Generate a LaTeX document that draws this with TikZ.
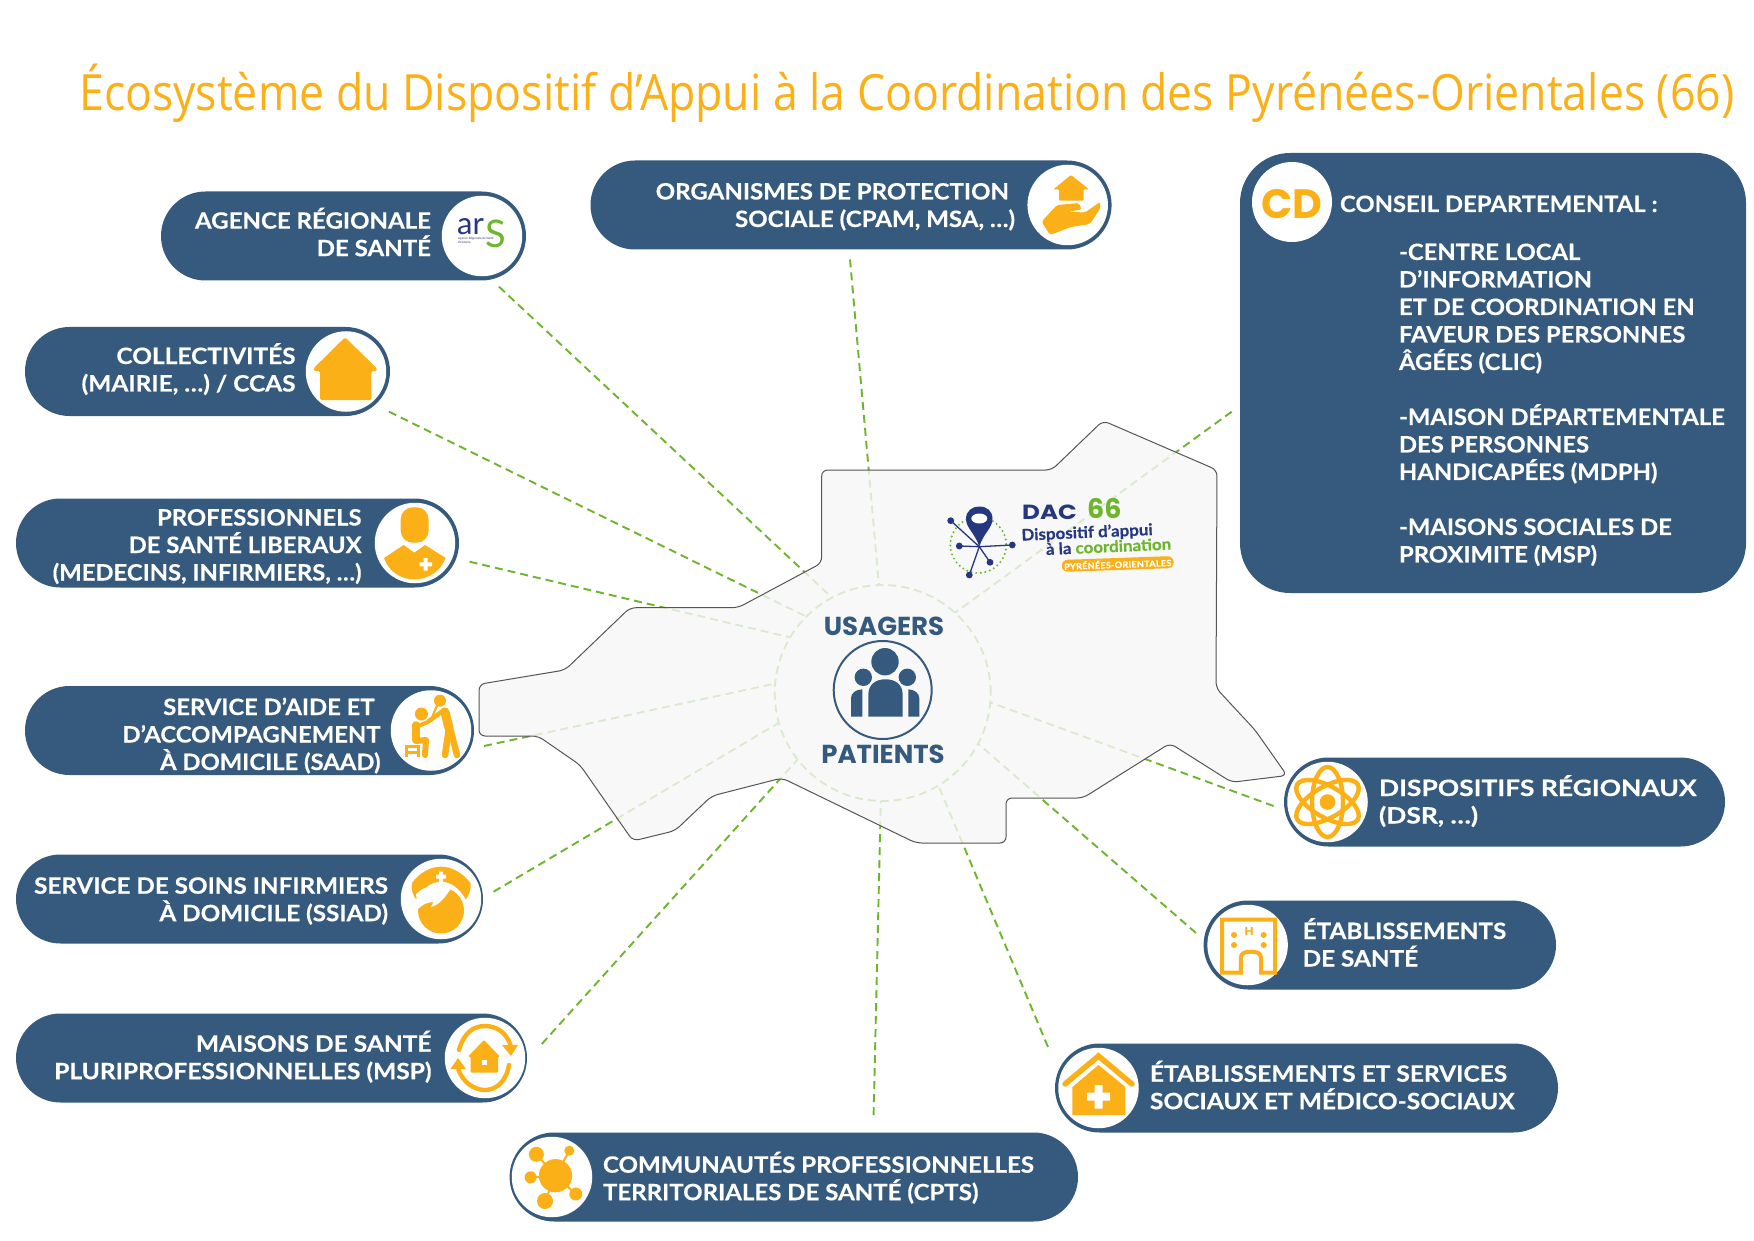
\documentclass[tikz,border=0pt]{standalone}
\usepackage{fontspec}
\usepackage{graphicx}
\usetikzlibrary{shapes.misc}
\setmainfont{Lato}[BoldFeatures={FakeStretch=1.058,FakeBold=0.45}]
\newfontfamily\titlef{Open Sans}
\newfontfamily\heavyf{Poppins}
\definecolor{navy}{HTML}{355A7D}
\definecolor{amber}{HTML}{FBB017}
\definecolor{leaf}{HTML}{6DB52D}
\definecolor{logonavy}{HTML}{24377F}
\definecolor{mapfill}{HTML}{F7F7F7}
\definecolor{mapline}{HTML}{555555}
\tikzset{
  pillbox/.style={rounded rectangle,fill=navy,minimum height=89pt,inner sep=0pt,outer sep=0pt},
  iconbg/.style={circle,fill=white,minimum size=80.5pt,inner sep=0pt,outer sep=0pt},
  lbl/.style={text=white,inner sep=0pt,outer sep=0pt,font=\fontsize{22.5}{27.5}\selectfont\bfseries},
  link/.style={draw=leaf,line width=1.9pt,dash pattern=on 8pt off 5pt},
  ico/.style={fill=amber,draw=none},
  icol/.style={draw=amber,fill=none,line cap=round,line join=round},
  bignavy/.style={text=navy,inner sep=0pt,font=\fontsize{26}{30}\selectfont\heavyf\bfseries},
}
\newcommand\pill[5]{%
  \node[pillbox,minimum width=#3pt-#2pt] (#1) at ({(#2+#3)/2},#4) {};
  \node[iconbg] (#1-ic) at (#5,#4) {};}
\newcommand\rtext[5][1]{\node[lbl,anchor=base east] (#2) at (#3,{#4+1}) {\scalebox{#1}[1]{\vtop{\baselineskip=27.5pt\lineskiplimit=-100pt\let\\\cr\halign{\hfil##\cr #5\crcr}}}};}
\newcommand\ltext[5][1]{\node[lbl,anchor=base west] (#2) at (#3,{#4+1}) {\scalebox{#1}[1]{\vtop{\baselineskip=27.5pt\lineskiplimit=-100pt\let\\\cr\halign{##\hfil\cr #5\crcr}}}};}
\begin{document}
\begin{tikzpicture}[x=1pt,y=-1pt]
\useasboundingbox (0,0) rectangle (1754,1241);
\fill[white] (0,0) rectangle (1754,1241);
% title
\node[anchor=base west,inner sep=0pt,text=amber,font=\fontsize{50}{58}\selectfont\titlef] (title) at (79,111)
  {\resizebox{1655pt}{\height}{Écosystème du Dispositif d’Appui à la Coordination des Pyrénées-Orientales (66)}};
% hub and connectors (lie beneath the translucent map)
\node[circle,minimum size=216pt,inner sep=0pt,outer sep=0pt,draw=leaf,line width=1.9pt,dash pattern=on 8pt off 5pt] (hub) at (882.7,693) {};
\coordinate (e-ars) at (499,286.7);
\coordinate (e-col) at (389,411.7);
\coordinate (e-pro) at (469.6,561.7);
\coordinate (e-saad) at (484,746);
\coordinate (e-ssiad) at (493.6,891.7);
\coordinate (e-msp) at (541.8,1044);
\coordinate (e-cpts) at (873.6,1115);
\coordinate (e-esms) at (1048,1047);
\coordinate (e-es) at (1196,933);
\coordinate (e-dsr) at (1273.6,806);
\coordinate (e-cd) at (1231.7,411.7);
\coordinate (e-ops) at (850,259.5);
\draw[link] (e-ars) -- (hub.118.4);
\draw[link] (e-col) -- (hub.135.5);
\draw[link] (e-pro) -- (hub.149.7);
\draw[link] (e-saad) -- (hub.175.8);
\draw[link] (e-ssiad) -- (hub.196.5);
\draw[link] (e-msp) -- (hub.218.2);
\draw[link] (e-cpts) -- (hub.269.5);
\draw[link] (e-esms) -- (hub.301);
\draw[link] (e-es) -- (hub.332.3);
\draw[link] (e-dsr) -- (hub.355.3);
\draw[link] (e-cd) -- (hub.48);
\draw[link] (e-ops) -- (hub.92);
% map
\path[fill=mapfill,fill opacity=.8,draw=mapline,draw opacity=1,line width=1pt,rounded corners=6pt]
  (479,684.3) -- (565,670) -- (630,607.7) -- (738,607.7) -- (821.7,563) -- (821.7,470) -- (1051.7,470)
  -- (1103,420.7) -- (1217,470) -- (1216,688) -- (1255,730) -- (1287,775.5) -- (1231.7,782.3)
  -- (1170,743.3) -- (1083,798) -- (1006,798) -- (1006,843) -- (916,843) -- (782,778) -- (711.7,796)
  -- (675,830.7) -- (633,841) -- (580,765) -- (538,736) -- (479,736) -- cycle;
% usagers
\node[bignavy,anchor=base] (usagers) at (884,635) {USAGERS};
\node[bignavy,anchor=base] (patients) at (883,763) {PATIENTS};
\node[circle,draw=navy,line width=2pt,minimum size=98pt,inner sep=0pt] (people) at (882.7,690) {};
\fill[navy] (885,661.7) circle (13.7) (863.3,677.3) circle (8.7) (907.3,677.3) circle (8.7);
\fill[navy] (868.3,716.7) -- (868.3,695) .. controls (868.3,684) and (876,679.3) .. (885.5,679.3) .. controls (895,679.3) and (902.7,684) .. (902.7,695) -- (902.7,716.7) -- cycle;
\fill[navy] (851,716.7) -- (851,698) .. controls (851,693) and (856,689.5) .. (862.3,689.3) -- (862.3,716.7) -- cycle;
\fill[navy] (919.3,716.7) -- (919.3,698) .. controls (919.3,693) and (914,689.5) .. (908.3,689.3) -- (908.3,716.7) -- cycle;
% DAC logo
\draw[leaf,line width=2.2pt,line cap=round,dash pattern=on 0pt off 4.6pt] (978.3,545) circle (28);
\fill[logonavy] (979.3,546.7) .. controls (975,533) and (966,528) .. (966,519) .. controls (966,511) and (972,506.5) .. (979.3,506.5) .. controls (987,506.5) and (992.5,511) .. (992.5,519) .. controls (992.5,528) and (983.5,533) .. (979.3,546.7) -- cycle;
\fill[white] (979.3,518.5) ellipse (8 and 5);
\coordinate (pinc) at (979.3,546.7);
\foreach \px/\py in {950.7/520.7,959.3/546,1012.3/545,990/562.3,969.3/575}{
  \draw[logonavy,line width=1.3pt] (pinc) -- (\px,\py);
  \fill[logonavy] (\px,\py) circle (3.4);
}
\node[anchor=base west,inner sep=0pt,text=logonavy,font=\fontsize{20.5}{24}\selectfont\heavyf\bfseries] (dac) at (1022,519.3) {\scalebox{1.2}[1]{DAC}};
\node[anchor=base west,inner sep=0pt,text=leaf,font=\fontsize{27}{30}\selectfont\heavyf\bfseries] (dac66) at (1087,518.5) {66};
\node[anchor=base west,inner sep=0pt,text=logonavy,rotate=2.5,font=\fontsize{16}{20}\selectfont\bfseries] (dacl1) at (1021.5,540.7) {Dispositif d’appui};
\node[anchor=base west,inner sep=0pt,text=leaf,rotate=2.5,font=\fontsize{16}{20}\selectfont\bfseries] (dacl2) at (1046,555) {\textcolor{logonavy}{à la} coordination};
\node[rounded rectangle,fill=amber,rotate=2,minimum width=112pt,minimum height=12pt,inner sep=0pt,text=white,font=\fontsize{8.6}{10}\selectfont\bfseries] (dacl3) at (1117.7,564) {\addfontfeature{LetterSpace=3}PYRÉNÉES-ORIENTALES};
% pills
\pill{ars}{161}{526}{236}{482}
\pill{col}{25}{390}{371.5}{346}
\pill{pro}{16}{459}{543}{415}
\pill{saad}{25}{474}{730.5}{431}
\pill{ssiad}{16}{483}{899}{441}
\pill{msp}{16}{527}{1058}{485}
\pill{cpts}{509.6}{1078}{1177}{552}
\pill{dsr}{1284}{1725}{802}{1327.5}
\pill{es}{1203.6}{1556}{945}{1247.6}
\pill{esms}{1055}{1558}{1088}{1098.5}
\pill{ops}{590.5}{1111.6}{205}{1067.7}
\node[rectangle,rounded corners=50pt,fill=navy,minimum width=506pt,minimum height=440pt,inner sep=0pt] (cdbox) at (1493,373) {};
\node[circle,fill=white,minimum size=80pt,inner sep=0pt] (cd-ic) at (1292,202) {};
\node[text=amber,inner sep=0pt,anchor=base,font=\fontsize{41}{44}\selectfont\heavyf\bfseries] (cdmark) at (1292,219) {CD};
% labels
\rtext[1.01]{ars-t}{431}{227.7}{AGENCE RÉGIONALE\\DE SANTÉ}
\rtext[1.027]{col-t}{295.5}{363}{COLLECTIVITÉS\\(MAIRIE, …) / CCAS}
\rtext{pro-t}{361.5}{524.5}{PROFESSIONNELS\\DE SANTÉ LIBERAUX\\(MEDECINS, INFIRMIERS, …)}
\rtext{saad-t}{380.5}{714}{SERVICE D’AIDE ET\hspace{6pt}\\D’ACCOMPAGNEMENT\\À DOMICILE (SAAD)}
\rtext[1.019]{ssiad-t}{388}{892.7}{SERVICE DE SOINS INFIRMIERS\\À DOMICILE (SSIAD)}
\rtext[1.03]{msp-t}{431.5}{1050.7}{MAISONS DE SANTÉ\\PLURIPROFESSIONNELLES (MSP)}
\rtext[1.01]{ops-t}{1015}{198.5}{ORGANISMES DE PROTECTION\hspace{6pt}\\SOCIALE (CPAM, MSA, …)}
\ltext[1.01]{cpts-t}{603}{1171.7}{COMMUNAUTÉS PROFESSIONNELLES\\TERRITORIALES DE SANTÉ (CPTS)}
\ltext[1.11]{dsr-t}{1379}{795}{DISPOSITIFS RÉGIONAUX\\(DSR, …)}
\ltext[1.02]{es-t}{1302.7}{938}{ÉTABLISSEMENTS\\DE SANTÉ}
\ltext[1.03]{esms-t}{1150}{1080.7}{ÉTABLISSEMENTS ET SERVICES\\SOCIAUX ET MÉDICO-SOCIAUX}
\ltext{cd-t}{1340}{211}{CONSEIL DEPARTEMENTAL :}
\ltext{cd-b}{1399}{259}{-CENTRE LOCAL\\D’INFORMATION\\ET DE COORDINATION EN\\FAVEUR DES PERSONNES\\ÂGÉES (CLIC)\\ \\-MAISON DÉPARTEMENTALE\\DES PERSONNES\\HANDICAPÉES (MDPH)\\ \\-MAISONS SOCIALES DE\\PROXIMITE (MSP)}
% ARS icon
\node[anchor=base west,inner sep=0pt,text=logonavy,font=\fontsize{31}{34}\selectfont] (ars-ar) at (457,235) {ar};
\node[anchor=base west,inner sep=0pt,text=leaf,font=\fontsize{38}{40}\selectfont] (ars-s) at (485,248) {S};
\node[anchor=west,inner sep=0pt,text=logonavy,font=\fontsize{3}{3.6}\selectfont] (ars-sub) at (458,241) {\begin{tabular}{@{}l@{}}Agence Régionale de Santé\\Occitanie\end{tabular}};
% collectivites house
\fill[ico,rounded corners=1.5pt] (345,337.3) -- (376.8,368.3) -- (376.8,371) -- (371.4,371) -- (371.4,400) -- (320,400) -- (320,371) -- (313.6,371) -- (313.6,368.3) -- cycle;
% doctor
\fill[ico,rounded corners=12pt] (400.7,507.3) rectangle (428.6,542.7);
\fill[ico] (384,558) -- (403.6,545) -- (414.3,552.7) -- (425,545) -- (445.7,558) .. controls (440,572) and (428,579.3) .. (414.3,579.3) .. controls (401,579.3) and (389,572) .. (384,558) -- cycle;
\fill[white] (423.7,558) rectangle (427.7,570.5) (419.5,562.3) rectangle (432,566.3);
% SAAD
\fill[ico] (440,700.7) circle (6) (421.4,714) circle (6.5);
\draw[icol,line width=9pt] (445,712) -- (449,728);
\draw[icol,line width=6.5pt] (449,728) -- (445,755);
\draw[icol,line width=6.5pt] (450,728) -- (457,755);
\draw[icol,line width=4.5pt] (444,710) -- (429,721);
\draw[icol,line width=2.2pt] (438,703) -- (431,720);
\draw[icol,line width=7.5pt] (416,725) -- (416,740);
\draw[icol,line width=6pt] (416,741) -- (426,740) -- (425,755);
\draw[icol,line width=4pt] (418,726) -- (428,722);
\draw[amber,line width=3pt] (406,757) -- (406,746) -- (418,746) -- (418,757) (406,752) -- (418,752);
% SSIAD
\fill[ico] (411.8,883.3) .. controls (420,872) and (431,866.7) .. (441,866.7) .. controls (451,866.7) and (462,872) .. (470.7,883.3) .. controls (471,890) and (469,895) .. (466,899.3) .. controls (459,888) and (451,881.7) .. (441,881.7) .. controls (431,881.7) and (423,888) .. (416,899.3) .. controls (413,895) and (411,890) .. (411.8,883.3) -- cycle;
\fill[white] (439,871.5) rectangle (443,882) (436,874.7) rectangle (446,878.7);
\fill[ico] (441,910.5) circle (23);
\fill[white] (416,894) .. controls (424,885) and (440,883) .. (451,888) .. controls (446,897) and (439,905) .. (431,907) .. controls (432,904) and (433,903) .. (434,902) .. controls (428,902) and (423,904) .. (418,909) -- cycle;
% MSP
\draw[icol,line width=4.4pt] (459,1050) .. controls (464,1032) and (474,1026) .. (485,1026) .. controls (496,1026) and (506,1032) .. (510.5,1045);
\fill[ico] (502,1045) -- (518,1045) -- (511,1056) -- cycle;
\draw[icol,line width=4.4pt] (509,1065) .. controls (506,1082) and (496,1090) .. (485,1090) .. controls (474,1090) and (463,1082) .. (458.5,1070);
\fill[ico] (450.5,1069) -- (466,1069) -- (458,1058) -- cycle;
\fill[ico,rounded corners=1pt] (484,1040) -- (500,1056.7) -- (498,1056.7) -- (498,1072.7) -- (470.7,1072.7) -- (470.7,1056.7) -- (467.9,1056.7) -- cycle;
\fill[white] (481.5,1059.5) rectangle (486.5,1064.5);
% OPS
\fill[ico,rounded corners=1pt] (1071,175) -- (1089,189.3) -- (1083.5,189.3) -- (1083.5,200.7) -- (1059,200.7) -- (1059,189.3) -- (1053.4,189.3) -- cycle;
\fill[ico,rounded corners=2pt] (1050,235) -- (1041.5,221.7) -- (1057,205) -- (1079,203) -- (1081.5,209.5) -- (1068,211.7) -- (1085,212.5) -- (1100,202) -- (1100.5,208) -- (1090,224) -- (1071,227) -- cycle;
% CPTS
\draw[amber,line width=2pt] (555.5,1175.7) -- (536.4,1154.3) (555.5,1175.7) -- (569.3,1150.7) (555.5,1175.7) -- (530.6,1177.3) (555.5,1175.7) -- (575.8,1194) (555.5,1175.7) -- (545,1201);
\fill[ico] (555.5,1175.7) circle (16.6) (536.4,1154.3) circle (7.5) (569.3,1150.7) circle (5) (530.6,1177.3) circle (6) (575.8,1194) circle (6.5) (545,1201) circle (8);
% DSR atom
\draw[amber,line width=4.4pt] (1327.5,802) ellipse (15.5 and 35);
\draw[amber,line width=4.4pt,rotate around={60:(1327.5,802)}] (1327.5,802) ellipse (15.5 and 35);
\draw[amber,line width=4.4pt,rotate around={-60:(1327.5,802)}] (1327.5,802) ellipse (15.5 and 35);
\fill[ico] (1327.5,802) circle (7.8);
% hospital
\draw[amber,line width=4pt,line join=miter] (1240.8,972.7) -- (1222,972.7) -- (1222,919.5) -- (1275,919.5) -- (1275,972.7) -- (1261,972.7) -- (1261,958) .. controls (1261,953) and (1257,951.7) .. (1251,951.7) .. controls (1245,951.7) and (1240.8,953) .. (1240.8,958) -- cycle;
\fill[ico] (1234,935) circle (3) (1263.7,935) circle (3) (1234,945) circle (3) (1263.7,945) circle (3);
\node[text=amber,inner sep=0pt,font=\fontsize{11}{12}\selectfont\bfseries] (es-h) at (1249,931) {H};
% ESMS house
\draw[amber,line width=5.5pt,line cap=round] (1065,1084) -- (1098.5,1056) -- (1132,1084);
\fill[ico] (1098.5,1065) -- (1125.4,1087) -- (1125.4,1115) -- (1072.4,1115) -- (1072.4,1087) -- cycle;
\fill[white] (1094.5,1085) rectangle (1102.5,1108.5) (1087,1092.7) rectangle (1110,1100.7);
\end{tikzpicture}
\end{document}
